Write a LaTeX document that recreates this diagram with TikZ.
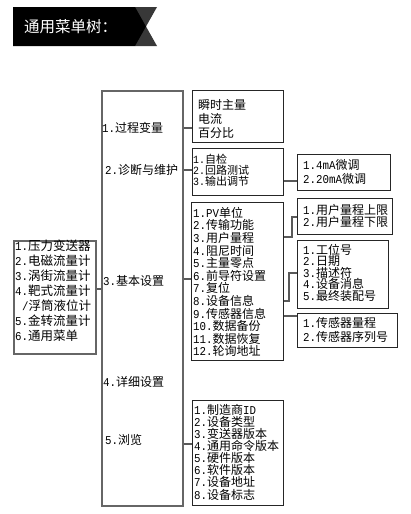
\documentclass[tikz,border=0pt]{standalone}
\usepackage{fontspec}
\setmainfont{Noto Sans CJK SC}
\newfontfamily\monof[FakeStretch=0.9]{Liberation Mono}
\newcommand\pf[1]{{\monof\fontsize{12}{12}\selectfont #1}}
\usetikzlibrary{calc}
\tikzset{
  box/.style={draw=black!85, line width=1.1pt, inner sep=0pt, anchor=north west, fill=white},
  outerbox/.style={draw=black!60, line width=1.7pt, inner sep=0pt, anchor=north west, fill=white},
  conn/.style={draw=black!65, line width=1.3pt},
  txt/.style={inner sep=0pt, anchor=base west, font=\fontsize{12}{12}\selectfont, text=black},
  txtbig/.style={font=\fontsize{12.5}{12.5}\selectfont},
  txtsmall/.style={font=\fontsize{11}{11}\selectfont},
}
% name, x, first centre y, step, list
\newcommand\textlines[6][]{%
  \foreach \t [count=\i] in {#6} {\node[txt,#1] (#2-\i) at (#3,{#4+4.3+(\i-1)*(#5)}) {\t};}}
\newcommand\pfs[1]{{\monof\fontsize{11}{11}\selectfont #1}}
\begin{document}
\begin{tikzpicture}[x=1pt,y=-1pt]
\useasboundingbox (0,0) rectangle (411,514);
\fill[white] (0,0) rectangle (411,514);
% banner
\fill[black!78] (135,7) -- (157,7) -- (146,26.5) -- (157,46) -- (135,46) -- cycle;
\fill[black] (13,7) -- (135,7) -- (146,26.5) -- (135,46) -- (13,46) -- cycle;
\node[text=white, font=\fontsize{15.5}{16}\selectfont, anchor=west, inner sep=0pt] (title) at (24,26.5) {通用菜单树：};

% boxes
\node[outerbox, minimum width=82pt, minimum height=113pt] (L) at (13,240) {};
\node[outerbox, minimum width=81pt, minimum height=415pt] (C) at (101,90) {};
\node[box, minimum width=91pt, minimum height=52pt] (B1) at (192,90) {};
\node[box, minimum width=91pt, minimum height=47pt] (B2) at (192,148) {};
\node[box, minimum width=93pt, minimum height=36pt] (B21) at (297,154) {};
\node[box, minimum width=92pt, minimum height=158pt] (B3) at (191,202) {};
\node[box, minimum width=95pt, minimum height=36pt] (B31) at (297,198) {};
\node[box, minimum width=91pt, minimum height=68pt] (B32) at (297,240) {};
\node[box, minimum width=100pt, minimum height=34pt] (B33) at (297,313) {};
\node[box, minimum width=91pt, minimum height=105pt] (B5) at (192,400) {};

% connectors
\draw[conn] (L.east |- 0,289) -- (C.west |- 0,289);
\draw[conn] (C.east |- 0,128) -- (B1.west |- 0,128);
\draw[conn] (C.east |- 0,170) -- (B2.west |- 0,170);
\draw[conn] (C.east |- 0,279) -- (B3.west |- 0,279);
\draw[conn] (C.east |- 0,444) -- (B5.west |- 0,444);
\draw[conn] (B2.east |- 0,181) -- (B21.west |- 0,181);
\draw[conn] (B3.east |- 0,237) -- ++(8,0) |- (B31.west |- 0,217);
\draw[conn] (B3.east |- 0,301) -- ++(5,0) |- (B32.west |- 0,273);
\draw[conn] (B3.east |- 0,316) -- (B33.west |- 0,316);

% column labels
\node[txt] (c1) at (102,132.3) {\pf{1.}过程变量};
\node[txt] (c2) at (105,174.3) {\pf{2.}诊断与维护};
\node[txt] (c3) at (103,285.3) {\pf{3.}基本设置};
\node[txt] (c4) at (103,386.3) {\pf{4.}详细设置};
\node[txt] (c5) at (105,444.3) {\pf{5.}浏览};

% box texts
\textlines[txtbig]{l}{15}{246}{15}{\pf{1.}压力变送器, \pf{2.}电磁流量计, \pf{3.}涡街流量计, \pf{4.}靶式流量计, \hspace{7pt}\pf{/}浮筒液位计, \pf{5.}金转流量计, \pf{6.}通用菜单}
\textlines{b1}{198}{105}{14}{瞬时主量, 电流, 百分比}
\textlines[txtsmall]{b2}{193}{159}{11}{\pfs{1.}自检, \pfs{2.}回路测试, \pfs{3.}输出调节}
\textlines{b21}{303}{165}{14}{\pf{1.4mA}微调, \pf{2.20mA}微调}
\textlines{b3}{193}{213}{12.6}{\pf{1.PV}单位, \pf{2.}传输功能, \pf{3.}用户量程, \pf{4.}阻尼时间, \pf{5.}主量零点, \pf{6.}前导符设置, \pf{7.}复位, \pf{8.}设备信息, \pf{9.}传感器信息, \pf{10.}数据备份, \pf{11.}数据恢复, \pf{12.}轮询地址}
\textlines{b31}{303}{210}{12}{\pf{1.}用户量程上限, \pf{2.}用户量程下限}
\textlines{b32}{303}{250}{11.5}{\pf{1.}工位号, \pf{2.}日期, \pf{3.}描述符, \pf{4.}设备消息, \pf{5.}最终装配号}
\textlines{b33}{303}{323}{14}{\pf{1.}传感器量程, \pf{2.}传感器序列号}
\textlines{b5}{194}{410}{12.1}{\pf{1.}制造商\pf{ID}, \pf{2.}设备类型, \pf{3.}变送器版本, \pf{4.}通用命令版本, \pf{5.}硬件版本, \pf{6.}软件版本, \pf{7.}设备地址, \pf{8.}设备标志}
\end{tikzpicture}
\end{document}
